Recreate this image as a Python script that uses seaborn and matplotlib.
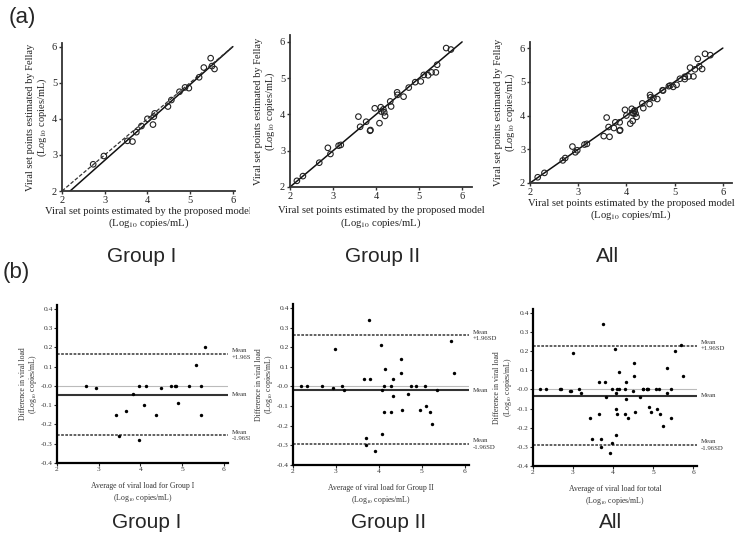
import numpy as np
import pandas as pd
import matplotlib
matplotlib.use("Agg")
import matplotlib.pyplot as plt
import seaborn as sns
from matplotlib.transforms import Bbox, TransformedBbox

sns.set_style("ticks")
plt.rcParams['font.family'] = ['Liberation Serif', 'DejaVu Serif']
plt.rcParams['mathtext.fontset'] = 'stix'

# (a) set points: proposed model (x) vs Fellay (y)
g1_model = [2.73, 2.98, 3.53, 3.65, 3.74, 3.86, 4.00, 4.13, 4.15, 4.17,
            4.48, 4.56, 4.75, 4.88, 4.97, 5.21, 5.32, 5.48, 5.51, 5.57]
g1_fellay = [2.74, 2.97, 3.39, 3.37, 3.63, 3.80, 4.00, 3.84, 4.06, 4.15,
             4.34, 4.52, 4.75, 4.87, 4.85, 5.15, 5.42, 5.68, 5.46, 5.38]
g2_model = [2.16, 2.30, 2.68, 2.88, 2.94, 3.13, 3.18, 3.59, 3.63, 3.77,
            3.86, 3.87, 3.97, 4.08, 4.11, 4.12, 4.17, 4.19, 4.21, 4.33,
            4.35, 4.49, 4.50, 4.64, 4.76, 4.91, 5.04, 5.11, 5.21, 5.29,
            5.39, 5.42, 5.63, 5.74]
g2_fellay = [2.17, 2.30, 2.67, 3.08, 2.91, 3.14, 3.16, 3.94, 3.66, 3.80,
             3.55, 3.57, 4.17, 3.76, 4.20, 4.08, 4.14, 4.06, 3.96, 4.36,
             4.22, 4.61, 4.54, 4.49, 4.74, 4.89, 4.91, 5.09, 5.08, 5.16,
             5.16, 5.37, 5.83, 5.79]

# fitted lines (start, end) for each panel
fit_g1_x, fit_g1_y = [2.19, 6.0], [2.0, 6.0]
ident_x, ident_y = [2.0, 6.0], [2.0, 6.0]
fit_g2_x, fit_g2_y = [2.0, 6.0], [2.0, 6.0]
fit_all_x, fit_all_y = [2.0, 6.0], [2.0, 6.0]

# (b) Bland-Altman: average vs difference
b1_avg = [2.70, 2.94, 3.42, 3.48, 3.66, 3.82, 3.97, 3.97, 4.08, 4.14, 4.38,
          4.50, 4.74, 4.84, 4.86, 4.89, 5.16, 5.34, 5.45, 5.45, 5.54]
b1_diff = [0.00, -0.01, -0.15, -0.26, -0.13, -0.04, 0.00, -0.28, -0.10, 0.00, -0.15,
           -0.01, 0.00, 0.00, 0.00, -0.09, 0.00, 0.11, 0.00, -0.15, 0.20]
b2_avg = [2.18, 2.33, 2.68, 2.93, 2.99, 3.14, 3.19, 3.65, 3.69, 3.69,
          3.76, 3.80, 3.92, 4.06, 4.08, 4.08, 4.11, 4.11, 4.15, 4.29,
          4.29, 4.33, 4.33, 4.52, 4.52, 4.55, 4.68, 4.76, 4.87, 4.95,
          5.08, 5.10, 5.18, 5.24, 5.36, 5.69, 5.74]
b2_diff = [0.00, 0.00, 0.00, -0.01, 0.19, 0.00, -0.02, 0.04, -0.26, -0.30,
           0.34, 0.04, -0.33, 0.21, -0.02, -0.24, 0.00, -0.13, 0.09, 0.00,
           -0.13, 0.04, -0.05, 0.14, 0.07, -0.12, -0.04, 0.00, 0.00, -0.12,
           0.00, -0.10, -0.13, -0.19, -0.02, 0.23, 0.07]

# mean and +-1.96SD limits
ba_mean = [-0.045, -0.02, -0.032]
ba_upper = [0.166, 0.26, 0.229]
ba_lower = [-0.256, -0.293, -0.29]

groups = ["Group I", "Group II", "All"]
ba_xlabels = ["Average of viral load for Group I",
              "Average of viral load for Group II",
              "Average of viral load for total"]
yticks_b = [-0.4, -0.3, -0.2, -0.1, 0.0, 0.1, 0.2, 0.3, 0.4]
yticklabels_b = ["-0.4", "-0.3", "-0.2", "-0.1", "-0.0", "0.1", "0.2", "0.3", "0.4"]
unit = r"(Log$_{10}$ copies/mL)"

W, H = 750, 539
fig = plt.figure(figsize=(7.5, 5.39), dpi=100)


def px_axes(x0, y0, x1, y1):
    # pixel box, origin at top-left
    return fig.add_axes([x0 / W, 1 - y1 / H, (x1 - x0) / W, (y1 - y0) / H])


def col_clip(col):
    return TransformedBbox(Bbox.from_extents(col / 3, 0, (col + 1) / 3, 1), fig.transFigure)


# ---- row (a)
top_axes = [px_axes(62, 43, 235, 191), px_axes(290, 35, 472, 187), px_axes(530, 42, 732, 183)]
top_lims = [(6.05, 6.1), (6.23, 6.19), (6.19, 6.18)]
top_data = [(g1_model, g1_fellay), (g2_model, g2_fellay),
            (g1_model + g2_model, g1_fellay + g2_fellay)]
top_fits = [(fit_g1_x, fit_g1_y), (fit_g2_x, fit_g2_y), (fit_all_x, fit_all_y)]
top_pads = [1.5, 4, 1.5]

for i, ax in enumerate(top_axes):
    mx, fy = top_data[i]
    sns.lineplot(x=top_fits[i][0], y=top_fits[i][1], ax=ax, color="#111111", lw=1.1)
    if i == 0:
        sns.lineplot(x=ident_x, y=ident_y, ax=ax, color="#333333", lw=0.9, linestyle=(0, (3, 1.5)))
    sns.scatterplot(x=mx, y=fy, ax=ax, marker="o", s=16, facecolor="none",
                    edgecolor="#222222", linewidth=0.8, zorder=3)
    ax.set_xlim(2, top_lims[i][0])
    ax.set_ylim(2, top_lims[i][1])
    ax.set_xticks([2, 3, 4, 5, 6])
    ax.set_yticks([2, 3, 4, 5, 6])
    sns.despine(ax=ax)
    for s in ["left", "bottom"]:
        ax.spines[s].set_linewidth(1.3)
        ax.spines[s].set_color("#333333")
    ax.tick_params(labelsize=7.5, length=2.5, width=1, pad=1, color="#333333",
                   labelcolor="#222222")
    ax.set_xlabel("Viral set points estimated by the proposed model\n" + unit,
                  fontsize=7.7, labelpad=top_pads[i], linespacing=1.1, color="#222222")
    ax.set_ylabel("Viral set points estimated by Fellay\n" + unit,
                  fontsize=7.5, labelpad=2, linespacing=1.1, color="#222222")
    ax.xaxis.label.set_clip_on(True)
    ax.xaxis.label.set_clip_box(col_clip(i))

# ---- row (b)
bot_axes = [px_axes(57, 305, 228, 463), px_axes(293, 304, 469, 465), px_axes(533, 309, 697, 466)]
bot_data = [(b1_avg, b1_diff), (b2_avg, b2_diff), (b1_avg + b2_avg, b1_diff + b2_diff)]
bot_ypads = [1, 1, 2]

for i, ax in enumerate(bot_axes):
    ax.axhline(0, color="#bbbbbb", lw=0.8, zorder=1)
    ax.axhline(ba_mean[i], color="#333333", lw=1.5, zorder=1)
    ax.axhline(ba_upper[i], color="#555555", lw=1.3, ls=(0, (1.5, 0.8)), zorder=1)
    ax.axhline(ba_lower[i], color="#555555", lw=1.3, ls=(0, (1.5, 0.8)), zorder=1)
    sns.scatterplot(x=bot_data[i][0], y=bot_data[i][1], ax=ax, s=6,
                    color="black", linewidth=0, zorder=3)
    ax.set_xlim(2, 6.1)
    ax.set_ylim(-0.4, 0.42)
    ax.set_xticks([2, 3, 4, 5, 6])
    ax.set_yticks(yticks_b)
    ax.set_yticklabels(yticklabels_b)
    sns.despine(ax=ax)
    for s in ["left", "bottom"]:
        ax.spines[s].set_linewidth(1.6)
        ax.spines[s].set_color("black")
    ax.tick_params(labelsize=5.4, length=2, width=0.8, pad=1, labelcolor="#333333")
    ax.set_xlabel(ba_xlabels[i] + "\n" + unit, fontsize=5.6, labelpad=7,
                  linespacing=1.3, color="#333333")
    ax.set_ylabel("Difference in viral load\n" + unit, fontsize=5.6,
                  labelpad=bot_ypads[i], linespacing=1.1, color="#333333")
    for txt, yv in [("Mean\n+1.96SD", ba_upper[i]), ("Mean", ba_mean[i]),
                    ("Mean\n-1.96SD", ba_lower[i])]:
        t = ax.annotate(txt, xy=(1, yv), xycoords=("axes fraction", "data"),
                        xytext=(2.5, 0), textcoords="offset points", ha="left",
                        va="center", fontsize=4.9, linespacing=1.3, color="#333333")
        t.set_clip_on(True)
        t.set_clip_box(col_clip(i))

# ---- panel letters and group names
fig.text(22 / W, 1 - 18 / H, "(a)", ha="center", va="center", fontsize=16, family="Liberation Sans")
fig.text(16 / W, 1 - 273 / H, "(b)", ha="center", va="center", fontsize=16, family="Liberation Sans")
for xc, g in zip([142, 383, 608], groups):
    fig.text(xc / W, 1 - 256 / H, g, ha="center", va="center", fontsize=15, family="Liberation Sans")
for xc, g in zip([147, 389, 611], groups):
    fig.text(xc / W, 1 - 523 / H, g, ha="center", va="center", fontsize=15, family="Liberation Sans")

fig.savefig("out.png", dpi=100)
